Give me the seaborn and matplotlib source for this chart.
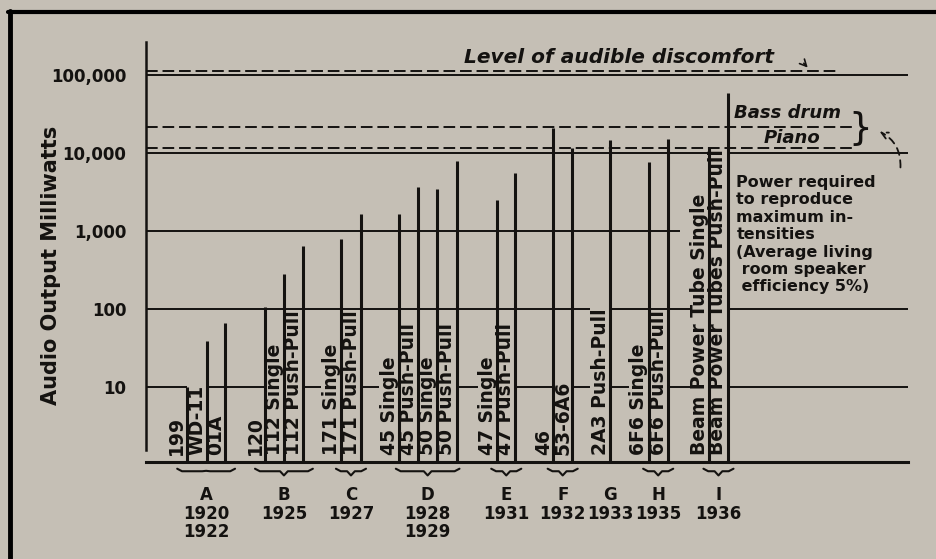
import numpy as np
import pandas as pd
import matplotlib
matplotlib.use("Agg")
import matplotlib.pyplot as plt
import seaborn as sns
from matplotlib.lines import Line2D
from matplotlib.ticker import NullLocator

# tube types (log scale, milliwatts)
tubes = ["199", "WD-11", "01A", "120", "112 Single", "112 Push-Pull",
         "171 Single", "171 Push-Pull", "45 Single", "45 Push-Pull",
         "50 Single", "50 Push-Pull", "47 Single", "47 Push-Pull",
         "46", "53-6A6", "2A3 Push-Pull", "6F6 Single", "6F6 Push-Pull",
         "Beam Power Tube Single", "Beam Power Tubes Push-Pull"]
milliwatts = [10, 39, 65, 105, 280, 640, 780, 1650, 1650, 3700, 3400, 7900,
              2500, 5600, 21000, 11500, 14500, 7700, 15000, 11500, 59000]
tube_group = ["A", "A", "A", "B", "B", "B", "C", "C", "D", "D", "D", "D",
              "E", "E", "F", "F", "G", "H", "H", "I", "I"]

groups = ["A", "B", "C", "D", "E", "F", "G", "H", "I"]
group_years = ["1920\n1922", "1925", "1927", "1928\n1929", "1931", "1932",
               "1933", "1935", "1936"]

ytick_vals = [10, 100, 1000, 10000, 100000]
ytick_labels = ["10", "100", "1,000", "10,000", "100,000"]

ref_names = ["discomfort", "bass drum", "piano"]
ref_levels = [113000, 21500, 11600]

# horizontal slot of each tube along the axis
tube_slot = [2.1, 3.15, 4.1, 6.15, 7.15, 8.15, 10.1, 11.15, 13.1, 14.1,
             15.1, 16.1, 18.2, 19.15, 21.1, 22.1, 24.05, 26.05, 27.05,
             29.2, 30.15]

df = pd.DataFrame({"tube": tubes, "mw": milliwatts, "group": tube_group,
                   "slot": tube_slot})

paper = "#c5bfb5"
ink = "#141210"

sns.set_theme(style="white", rc={"axes.facecolor": paper,
                                 "figure.facecolor": paper,
                                 "text.color": ink, "axes.labelcolor": ink,
                                 "xtick.color": ink, "ytick.color": ink})
plt.rcParams["font.family"] = ["DejaVu Sans"]

fig = plt.figure(figsize=(9.36, 5.59), dpi=100)
ax = fig.add_axes([146 / 936, 97 / 559, 762 / 936, 420 / 559])
ax.set_yscale("log")
ybot, ytop = 1.08, 265000
ax.set_ylim(ybot, ytop)
ax.set_xlim(0, 39.5)

# grid lines (1,000 line stops before the note on the right)
for v in ytick_vals:
    xmax = 27.7 if v == 1000 else 39.5
    ax.hlines(v, 0, xmax, color=ink, lw=1.4, zorder=1)

# reference levels
for name, lev in zip(ref_names, ref_levels):
    xmax = 35.8 if name == "discomfort" else 36.7
    ax.hlines(lev, 0, xmax, color=ink, lw=1.4, linestyles=(0, (6, 2.5)),
              zorder=1)

# bars
ax.vlines(df["slot"], ybot, df["mw"], color=ink, lw=2.2, zorder=4)

# vertical tube labels
xt = ax.get_xaxis_transform()
for _, r in df.iterrows():
    ax.text(r["slot"] - 0.5, 0.016, r["tube"], transform=xt, rotation=90,
            ha="center", va="bottom", fontsize=13.5, fontweight="bold",
            zorder=3,
            bbox=dict(boxstyle="square,pad=0.02", fc=paper, ec="none"))

# group letters, years and braces
for g, yrs in zip(groups, group_years):
    sub = df[df["group"] == g]
    c = sub["slot"].mean()
    ax.text(c, -0.057, g + "\n" + yrs, transform=xt, ha="center", va="top",
            fontsize=12, fontweight="bold", linespacing=1.05)
    n = len(sub)
    if n > 1:
        hw = {2: 0.78, 3: 1.5, 4: 1.65}[n]
        x0, x1 = c - hw, c + hw
        dip = -0.021 if g == "A" else -0.032
        bx = [x0, x0 + 0.25, c - 0.2, c, c + 0.2, x1 - 0.25, x1]
        by = [-0.016, -0.022, -0.022, dip, -0.022, -0.022, -0.016]
        ax.plot(bx, by, transform=xt, color=ink, lw=1.5, clip_on=False)

# annotations
ax.text(16.5, 142000, "Level of audible discomfort", fontsize=14.5,
        fontweight="bold", style="italic", va="baseline")
ax.annotate("", xy=(34.4, 117000), xytext=(34.0, 150000),
            arrowprops=dict(arrowstyle="->", lw=1.2, color=ink))
ax.text(30.5, 28000, "Bass drum", fontsize=13, fontweight="bold",
        style="italic", va="baseline")
ax.text(32.0, 13300, "Piano", fontsize=13, fontweight="bold",
        style="italic", va="baseline")
ax.text(37.0, 20500, "}", fontsize=27, va="center", ha="center")
ax.annotate("", xy=(37.9, 19500), xytext=(39.1, 6000),
            arrowprops=dict(arrowstyle="->", lw=1.3, color=ink,
                            linestyle=(0, (4, 3)),
                            connectionstyle="arc3,rad=0.35"))
ax.text(30.6, 5200, "Power required\nto reproduce\nmaximum in-\ntensities\n"
        "(Average living\n room speaker\n efficiency 5%)",
        fontsize=11.5, fontweight="bold", va="top", linespacing=1.2)

# axes
ax.set_yticks(ytick_vals, ytick_labels)
ax.yaxis.set_minor_locator(NullLocator())
ax.set_xticks([])
ax.tick_params(axis="y", length=4, width=1.4, pad=10, labelsize=12)
for lab in ax.get_yticklabels():
    lab.set_fontweight("bold")
ax.set_ylabel("Audio Output Milliwatts", fontsize=15, fontweight="bold")
ax.yaxis.set_label_coords(-0.111, 0.467)
sns.despine(ax=ax, top=True, right=True)
ax.spines["left"].set_linewidth(1.8)
ax.spines["left"].set_color(ink)
ax.spines["left"].set_bounds(1.55, ytop)
ax.spines["bottom"].set_linewidth(2.2)
ax.spines["bottom"].set_color(ink)

# page frame of the scan
fig.add_artist(Line2D([8 / 936, 1], [1 - 12 / 559] * 2, color="black",
                      lw=3, transform=fig.transFigure))
fig.add_artist(Line2D([10 / 936] * 2, [0, 1 - 11 / 559], color="black",
                      lw=3.5, transform=fig.transFigure))

fig.savefig("out.png", dpi=100, facecolor=paper)
